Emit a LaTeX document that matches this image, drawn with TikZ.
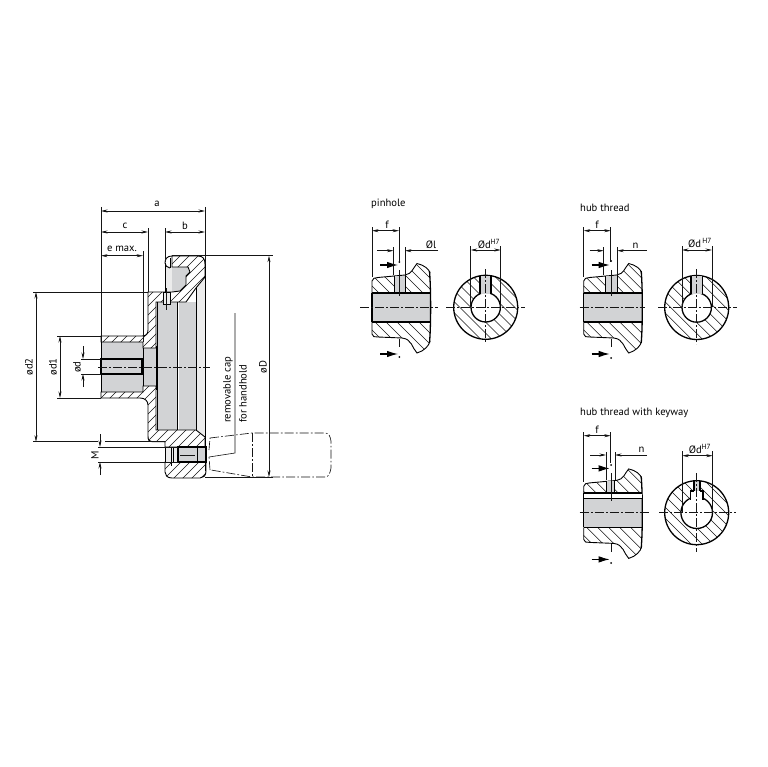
\documentclass[tikz,border=0pt]{standalone}
\usepackage{fontspec}
\setmainfont{PT Sans}
\usetikzlibrary{arrows.meta}
\definecolor{ink}{HTML}{151515}
\definecolor{cavity}{HTML}{D2D3D5}
\definecolor{pale}{HTML}{ECECEC}
\tikzset{
  ext/.style={draw=ink,line width=.6pt},
  dimline/.style={draw=ink,line width=.6pt,{Stealth[length=6.5pt,width=3pt]}-{Stealth[length=6.5pt,width=3pt]}},
  dimend/.style={draw=ink,line width=.6pt,-{Stealth[length=6.5pt,width=3pt]}},
  edge/.style={draw=black,line width=.9pt},
  heavy/.style={draw=black,line width=1.3pt},
  hatchline/.style={draw=ink,line width=.5pt},
  centre/.style={draw=ink,line width=.65pt,dash pattern=on 9pt off 2.2pt on 1.6pt off 2.2pt},
  secarrow/.style={draw=black,line width=1.1pt,-{Latex[length=11pt,width=6.5pt]}},
  label/.style={font=\fontsize{10.6}{12}\selectfont,text=black,inner sep=0pt},
  rlabel/.style={label,rotate=90},
}
% main part hatching: rising lines
\newcommand{\hatchup}[1]{\begin{scope}\clip #1;
  \foreach \k in {400,409,...,700}{\draw[hatchline] (\k-700,700) -- (\k,0);}
  \end{scope}\draw[edge] #1;}
% detail hatching: falling lines
\newcommand{\hatchdn}[1]{\begin{scope}\clip #1;
  \foreach \k in {20,31,...,180}{\draw[hatchline] (\k,0) -- (\k+600,600);}
  \end{scope}}
% section view of the hub, drawn in the coordinates of the first detail
\newcommand{\hubsection}[2]{%
  \hatchdn{(372,293) -- (372,281) .. controls (372,278) and (375,278) .. (378,277.5) -- (405,275) .. controls (412,274) and (413,268) .. (417,263.5) .. controls (424,265) and (429,269) .. (430,273) -- (430,293) -- cycle}
  \hatchdn{(372,322) -- (372,334) .. controls (372,337) and (375,337) .. (378,337) -- (402,338) .. controls (412,339) and (412,348) .. (417,353) .. controls (424,351) and (429,346) .. (430,341) -- (430,322) -- cycle}
  \draw[edge] (372,293) -- (372,281) .. controls (372,278) and (375,278) .. (378,277.5) -- (405,275) .. controls (412,274) and (413,268) .. (417,263.5) .. controls (424,265) and (429,269) .. (430,273);
  \draw[edge] (372,322) -- (372,334) .. controls (372,337) and (375,337) .. (378,337) -- (402,338) .. controls (412,339) and (412,348) .. (417,353) .. controls (424,351) and (429,346) .. (430,341);
  \draw[heavy] (429.5,271) .. controls (431,290) and (431,325) .. (429.5,343);
  \fill[cavity] (#1,276) rectangle (#2,293);
  \draw[edge] (#1,276) -- (#1,293) (#2,275) -- (#2,293);
}
\newcommand{\ringhatch}[2]{%
  \begin{scope}\clip (#1,#2) circle (32);
  \pgfmathsetmacro{\kst}{#1-#2-48}\pgfmathsetmacro{\ksn}{\kst+11}\pgfmathsetmacro{\ken}{#1-#2+48}
  \foreach \k in {\kst,\ksn,...,\ken}{\draw[hatchline] (\k,0) -- (\k+800,800);}
  \end{scope}}
\begin{document}
\begin{tikzpicture}[x=1pt,y=-1pt]
\useasboundingbox[fill=white] (0,0) rectangle (767,767);

%% ---------- main part ----------
% cavities
\fill[cavity] (101,342) rectangle (143,392);
\fill[cavity] (143,348) rectangle (156,386);
\fill[cavity] (157,302) rectangle (177,430);
\fill[cavity] (179,302) rectangle (196,430);
\fill[pale] (196,288) -- (205,277) -- (205,437) -- (196,430) -- cycle;
\fill[pale] (165,266) rectangle (172,292);
\fill[cavity] (172,267) -- (188,267) -- (190,272) -- (186,276) -- (186,285) -- (180,291) -- (172,291) -- cycle;
% hatched sections
\hatchup{(101,336) -- (142,336) .. controls (146,336) and (148,334) .. (148,330) -- (148,292) -- (172,292) -- (180,291) -- (186,285) -- (186,276) -- (190,272) -- (188,267) -- (172,267) -- (172,256) -- (198,256) .. controls (203,256) and (205,259) .. (205,264) -- (205,277) -- (196,288) -- (186,302) -- (156,302) -- (156,348) -- (143,348) -- (143,342) -- (101,342) -- cycle}
\hatchup{(101,392) -- (143,392) -- (143,386) -- (156,386) -- (156,430) -- (196,430) -- (205,437) -- (205,447) -- (165,447) -- (165,441.7) -- (152,441.7) .. controls (149,441.7) and (148,440) .. (148,436) -- (148,405) .. controls (148,401) and (145,398) .. (140,398) -- (101,398) -- cycle}
\hatchup{(165,462) -- (206,462) -- (206,471) .. controls (206,476) and (203,478) .. (200,478) -- (172,478) .. controls (167,478) and (165,475) .. (165,472) -- cycle}
% rim nose
\draw[edge] (172,256) .. controls (167,256) and (165,259) .. (165,263) .. controls (165,266) and (167,267) .. (170,268);
\draw[edge] (170,258) -- (170,268);
\draw[edge] (165,263) -- (165,292);
% grooves
\draw[heavy] (156.5,346) -- (156.5,390);
\draw[edge] (157,302) -- (157,430);
\draw[heavy] (177.5,302) -- (177.5,430);
\draw[edge] (196,288) -- (196,430);
\draw[edge] (205,264) -- (205,471);
% pin hole
\fill[pale] (163,292) rectangle (170,304);
\draw[edge] (163,292) rectangle (170,304);
\draw[ext] (166.5,288) -- (166.5,310);
% bore d
\draw[heavy] (101,359) rectangle (142,374);
\draw[edge] (101,342) -- (101,392);
\draw[edge] (143,348) -- (143,386);
% screw seat
\fill[pale] (165,447) rectangle (178,462);
\fill[cavity] (178,447) rectangle (206,462);
\draw[edge] (171,447) -- (171,466) (173,447) -- (173,462);
\draw[heavy] (178,447) -- (206,447) -- (206,462) -- (178,462) -- cycle;
\draw[edge] (197,447) -- (197,462);
\draw[edge] (165,447) -- (165,462);
\draw[ext] (180,455) -- (195,455);
% centre line
\draw[centre] (98,367) -- (210,367);
% handle
\draw[centre] (210,438) -- (252,433) -- (325,433) .. controls (329,433) and (330,436) .. (331,441) -- (331,468) .. controls (330,473) and (329,477) .. (325,477) -- (252,477) -- (211,470) (210,470) -- (209,457) (209,450) -- (210,438);
\draw[centre] (252,433) -- (252,477);
% leader
\draw[ext] (235,313) -- (235,453) -- (209,457);

% extension lines
\draw[ext] (101,207) -- (101,342);
\draw[ext] (205,207) -- (205,264);
\draw[ext] (148,228) -- (148,292);
\draw[ext] (143,251) -- (143,342);
\draw[ext] (165,228) -- (165,262);
\draw[ext] (33,292) -- (148,292);
\draw[ext] (33,441.7) -- (98,441.7) (105,441.7) -- (165,441.7);
\draw[ext] (57,336) -- (101,336);
\draw[ext] (57,398) -- (101,398);
\draw[ext] (81,359) -- (101,359);
\draw[ext] (81,374) -- (101,374);
\draw[ext] (98,447) -- (178,447);
\draw[ext] (98,462) -- (178,462);
\draw[ext] (172,255.7) -- (273,255.7);
\draw[ext] (205,477) -- (273,477);
% dimensions
\draw[dimline] (101,211) -- (205,211);
\draw[dimline] (101,232) -- (148,232);
\draw[dimline] (165,232) -- (205,232);
\draw[dimline] (101,255.7) -- (143,255.7);
\draw[dimline] (36,292) -- (36,441.7);
\draw[dimline] (60,336) -- (60,398);
\draw[dimend] (83,346) -- (83,359);
\draw[dimend] (83,387) -- (83,374);
\draw[dimend] (100,434) -- (100,447);
\draw[dimend] (100,475) -- (100,462);
\draw[dimline] (269,255.7) -- (269,477);
% labels
\node[label] (la) at (157,204) {a};
\node[label] (lc) at (125,226) {c};
\node[label] (lb) at (185,226) {b};
\node[label] (le) at (122,249) {e max.};
\node[rlabel] (ld2) at (29,367) {ød2};
\node[rlabel] (ld1) at (53,367) {ød1};
\node[rlabel] (ld) at (77,367) {ød};
\node[rlabel] (lM) at (95,455) {M};
\node[rlabel] (lD) at (263,367) {øD};
\node[rlabel,anchor=west] (lcap) at (228,423) {removable cap};
\node[rlabel,anchor=west] (lhold) at (243,423) {for handhold};

%% ---------- pinhole ----------
\node[label,anchor=west] (t1) at (371,204) {pinhole};
\fill[cavity] (372,293) rectangle (430,322);
\hubsection{394}{405}
\draw[heavy] (372,293) -- (430,293) (430,322) -- (372,322);
\draw[heavy] (372,293) -- (372,322);
\draw[centre] (360,307.3) -- (438,307.3);
\draw[ext] (399.5,270) -- (399.5,296);
\draw[ext] (399.5,339) -- (399.5,347);
\draw[secarrow] (380,265) -- (398,265);
\draw[secarrow] (380,354) -- (398,354);
\fill (399.3,262) circle (1) (399.3,357) circle (1);
\draw[ext] (372,227) -- (372,277);
\draw[ext] (399,227) -- (399,262);
\draw[ext] (393.5,247) -- (393.5,275);
\draw[ext] (405,247) -- (405,275);
\draw[dimline] (372,230.7) -- (399,230.7);
\draw[dimend] (377,250.7) -- (393.5,250.7);
\draw[dimend] (438,250.7) -- (405,250.7);
\node[label] (lf1) at (387,225) {f};
\node[label] (ll1) at (431,245) {Øl};
% ring
\ringhatch{485.7}{307.3}
\fill[white] (485.7,307.3) circle (14.7);
\draw[heavy] (485.7,307.3) circle (32);
\draw[heavy] (485.7,307.3) circle (14.7);
\fill[cavity] (480,276) rectangle (491,293.5);
\draw[heavy] (480,276) -- (480,294) (491,276) -- (491,294);
\draw[centre] (446,307.3) -- (525,307.3);
\draw[centre] (485.7,269) -- (485.7,342);
\draw[ext] (470.7,246) -- (470.7,307);
\draw[ext] (500.7,246) -- (500.7,307);
\draw[dimline] (470.7,250) -- (500.7,250);
\node[label] (ld3) at (489,244) {Ød\textsuperscript{H7}};

%% ---------- hub thread ----------
\begin{scope}[shift={(211.7,0)}]
\fill[cavity] (372,293) rectangle (430,322);
\hubsection{393.5}{405.5}
\draw[heavy] (372,293) -- (430,293) (430,322) -- (372,322);
\draw[heavy] (372,293) -- (372,322);
\draw[ext] (399.5,270) -- (399.5,296);
\draw[ext] (399.5,339) -- (399.5,347);
\draw[secarrow] (380,265) -- (398,265);
\draw[secarrow] (380,354) -- (398,354);
\fill (399.3,261) circle (1) (399.3,358) circle (1);
\draw[centre] (368,307.3) -- (433,307.3);
\draw[ext] (372,227) -- (372,277);
\draw[ext] (399,227) -- (399,262);
\draw[ext] (392,247) -- (392,275);
\draw[ext] (405.5,247) -- (405.5,275);
\draw[dimline] (372,230.7) -- (399,230.7);
\draw[dimend] (378,250.7) -- (392,250.7);
\draw[dimend] (435,250.7) -- (405.5,250.7);
\end{scope}
\node[label,anchor=west] (t2) at (580,208) {hub thread};
\node[label] (lf2) at (597,225) {f};
\node[label] (ln2) at (635.5,246) {n};
\ringhatch{696.7}{307.5}
\fill[white] (696.7,307.5) circle (14.7);
\draw[heavy] (696.7,307.5) circle (32);
\draw[heavy] (696.7,307.5) circle (14.7);
\fill[cavity] (691,276) rectangle (702.5,293.5);
\draw[heavy] (691,276) -- (691,294) (702.5,276) -- (702.5,294);
\draw[centre] (658,307.5) -- (737,307.5);
\draw[centre] (696.7,269) -- (696.7,344);
\draw[ext] (682,246) -- (682,307);
\draw[ext] (712,246) -- (712,307);
\draw[dimline] (682,250) -- (712,250);
\node[label] (ld4) at (700,243) {Ød\textsuperscript{\,H7}};

%% ---------- hub thread with keyway ----------
\begin{scope}[shift={(211.7,205.4)}]
\fill[cavity] (372,293) rectangle (430,322);
\hubsection{394.5}{402.5}
\fill[white] (372,287.6) rectangle (430,293);
\draw[heavy] (372,287.6) -- (430,287.6);
\draw[heavy] (372,293) -- (430,293) (430,322) -- (372,322);
\draw[heavy] (372,287.6) -- (372,322);
\draw[ext] (399.5,268) -- (399.5,296);
\draw[ext] (399.5,339) -- (399.5,347);
\draw[secarrow] (380,263) -- (398,263);
\draw[secarrow] (380,354) -- (398,354);
\fill (399.3,259.6) circle (1) (399.3,357.6) circle (1);
\draw[centre] (368,307.3) -- (438,307.3);
\draw[ext] (372,227) -- (372,277);
\draw[ext] (399,227) -- (399,258);
\end{scope}
\draw[ext] (606,452) -- (606,480);
\draw[ext] (615,452) -- (615,480);
\draw[dimline] (583.7,435.7) -- (610.7,435.7);
\draw[dimend] (590,455) -- (606,455);
\draw[dimend] (647,455) -- (615,455);
\node[label,anchor=west] (t3) at (580,412.5) {hub thread with keyway};
\node[label] (lf3) at (597,430) {f};
\node[label] (ln3) at (641.5,450) {n};
\ringhatch{696.7}{512.7}
\fill[white] (696.7,512.7) circle (15.8);
\draw[heavy] (696.7,512.7) circle (32);
\draw[heavy] (696.7,512.7) circle (15.8);
\fill[white] (690.7,491) rectangle (703,502);
\draw[heavy] (690.7,499.6) -- (690.7,491) -- (694,491) (700,491) -- (703,491) -- (703,499.6);
\fill[cavity] (694,481.5) rectangle (700,491);
\draw[heavy] (694,481) -- (694,491) (700,481) -- (700,491);
\draw[centre] (659,512.7) -- (736,512.7);
\draw[centre] (696.7,473) -- (696.7,552);
\draw[ext] (682.3,451) -- (682.3,512);
\draw[ext] (712.7,451) -- (712.7,512);
\draw[dimline] (682.3,455.7) -- (712.7,455.7);
\node[label] (ld5) at (700,449) {Ød\textsuperscript{H7}};
\end{tikzpicture}
\end{document}
